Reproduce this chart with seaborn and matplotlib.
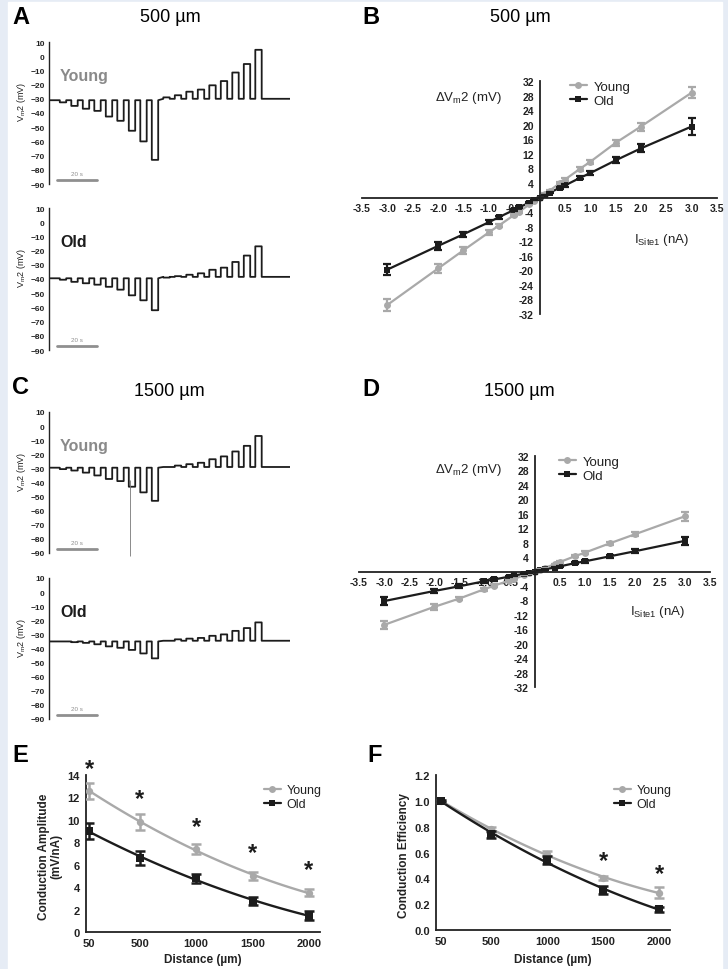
import numpy as np
import pandas as pd
import matplotlib
matplotlib.use("Agg")
import matplotlib.pyplot as plt
import seaborn as sns
from matplotlib.lines import Line2D
from matplotlib.patches import Rectangle

sns.set_style("white")
plt.rcParams["font.family"] = ["Liberation Sans", "DejaVu Sans"]
plt.rcParams["mathtext.fontset"] = "custom"
plt.rcParams["mathtext.rm"] = "Liberation Sans"

# %% data
# voltage traces: pulse order -0.1 ... -3.0 nA, then +0.1 ... +3.0 nA
a_young_base = [-31, -30]
a_young_neg = [-32.5, -35, -37, -38.5, -42.5, -45.5, -52.5, -60, -73]
a_young_pos = [-29, -27.5, -25, -23.5, -20.5, -17.5, -11.5, -5.5, 4.5]
a_old_base = [-39.5, -38.5]
a_old_neg = [-40.5, -42, -43, -44, -45.5, -47.5, -51.5, -55, -62]
a_old_pos = [-39, -38, -37, -36, -33.5, -32, -28, -23.5, -17]
c_young_base = [-29.5, -29]
c_young_neg = [-30.5, -31.5, -33, -35, -37.5, -39, -43, -47, -53]
c_young_pos = [-29, -28, -27, -26, -23.5, -21.5, -18, -14, -7]
c_young_spike = [40.5, -38, -92]  # time (s), from, to
c_old_base = [-35, -34.5]
c_old_neg = [-35, -35.5, -36, -37, -38.5, -39.5, -41, -43.5, -47]
c_old_pos = [-34.5, -33.5, -33, -32.5, -31, -30, -27.5, -25.5, -21.5]

# I-V relations
current_nA = [-3, -2, -1.5, -1, -0.8, -0.5, -0.4, -0.2, -0.1, 0,
              0.1, 0.2, 0.4, 0.5, 0.8, 1, 1.5, 2, 3]
b_young = [-29.5, -19.5, -14.5, -9.6, -7.7, -4.8, -3.9, -1.9, -1.0, 0,
           1.0, 1.9, 3.9, 4.9, 7.9, 9.8, 15.0, 19.5, 28.8]
b_young_err = [1.6, 1.2, 0.9, 0.6, 0.5, 0.4, 0.3, 0.2, 0.1, 0,
               0.1, 0.2, 0.3, 0.4, 0.5, 0.6, 0.9, 1.1, 1.6]
b_old = [-19.8, -13.3, -10.1, -6.8, -5.4, -3.4, -2.7, -1.4, -0.7, 0,
         0.7, 1.3, 2.7, 3.3, 5.4, 6.7, 10.2, 13.5, 19.5]
b_old_err = [1.5, 1.0, 0.7, 0.5, 0.4, 0.3, 0.25, 0.15, 0.1, 0,
             0.1, 0.15, 0.25, 0.3, 0.4, 0.5, 0.8, 1.1, 2.2]
d_young = [-14.8, -9.8, -7.5, -4.9, -3.9, -2.5, -2.0, -1.0, -0.5, 0,
           0.5, 1.0, 2.0, 2.6, 4.2, 5.2, 7.8, 10.3, 15.3]
d_young_err = [1.1, 0.8, 0.5, 0.4, 0.3, 0.2, 0.2, 0.1, 0.1, 0,
               0.1, 0.1, 0.2, 0.2, 0.3, 0.4, 0.5, 0.6, 1.2]
d_old = [-8.2, -5.4, -4.1, -2.7, -2.2, -1.4, -1.1, -0.6, -0.3, 0,
         0.3, 0.6, 1.1, 1.4, 2.3, 2.8, 4.2, 5.6, 8.5]
d_old_err = [1.2, 0.6, 0.5, 0.4, 0.3, 0.2, 0.2, 0.1, 0.1, 0,
             0.1, 0.1, 0.2, 0.2, 0.3, 0.4, 0.5, 0.5, 1.1]

# distance dependence
distance_um = [50, 500, 1000, 1500, 2000]
e_young = [12.6, 9.8, 7.4, 5.0, 3.5]
e_young_err = [0.7, 0.7, 0.45, 0.35, 0.3]
e_old = [9.0, 6.6, 4.8, 2.8, 1.45]
e_old_err = [0.7, 0.6, 0.4, 0.35, 0.4]
e_star_x = [50, 500, 1000, 1500, 2000]
e_star_y = [14.6, 11.9, 9.4, 7.1, 5.6]
f_young = [1.0, 0.78, 0.59, 0.40, 0.29]
f_young_err = [0.01, 0.02, 0.02, 0.015, 0.04]
f_old = [1.0, 0.74, 0.54, 0.31, 0.16]
f_old_err = [0.01, 0.03, 0.03, 0.03, 0.02]
f_star_x = [1500, 2000]
f_star_y = [0.535, 0.435]

# %% styles
YOUNG = "#a9a9a9"
OLD = "#1c1c1c"
TEXT = "#222222"
W, H = 728, 970

fig = plt.figure(figsize=(W / 100, H / 100), dpi=100)
fig.patch.set_facecolor("#e6ecf5")
fig.add_artist(Rectangle((8 / W, 0), (722 - 8) / W, 1 - 3 / H,
                         transform=fig.transFigure, color="white", zorder=-10))


def px_axes(left, top, right, bottom):
    ax = fig.add_axes([left / W, 1 - bottom / H, (right - left) / W, (bottom - top) / H])
    ax.set_facecolor("none")
    return ax


def ftext(x, y, s, **kw):
    fig.text(x / W, 1 - y / H, s, **kw)


# %% voltage traces (A, C)
first_onset, period, pulse_width, t_end = 5.4, 5.75, 3.2, 120.5


def trace_panel(top, bottom, base, neg, pos, label, label_color, spike=None):
    ax = px_axes(49, top, 290, bottom)
    t, v = [0.0], [base[0]]
    for i, lev in enumerate(neg + pos):
        b = base[0] if i < len(neg) else base[1]
        on = first_onset + i * period
        t += [on, on, on + pulse_width, on + pulse_width]
        v += [b, lev, lev, b]
    t.append(t_end)
    v.append(base[1])
    df = pd.DataFrame({"t": t, "v": v})
    sns.lineplot(data=df, x="t", y="v", sort=False, estimator=None,
                 color=OLD, lw=1.3, ax=ax)
    if spike is not None:
        ax.vlines(spike[0], spike[2], spike[1], color="#777777", lw=0.6, clip_on=False)
    ax.set_xlim(0, t_end)
    ax.set_ylim(-90, 10)
    ax.set_yticks(range(-90, 11, 10))
    ax.tick_params(axis="y", labelsize=6, length=2, width=0.8, pad=1, colors=TEXT)
    for lab in ax.get_yticklabels():
        lab.set_fontweight("bold")
    ax.set_xticks([])
    ax.set_xlabel("")
    ax.set_ylabel("")
    for s in ["top", "right", "bottom"]:
        ax.spines[s].set_visible(False)
    ax.spines["left"].set_linewidth(1.0)
    ax.spines["left"].set_color(TEXT)
    ax.text(5.5, -13.5, label, color=label_color, fontsize=11.5,
            fontweight="bold", va="center", ha="left")
    # scale bar 20 s
    ax.plot([4, 24], [-87, -87], color="#8f8f8f", lw=2, clip_on=False)
    ax.text(14, -84.5, "20 s", color="#8f8f8f", fontsize=4.5, ha="center", va="bottom")
    ftext(22, (top + bottom) / 2 - 12, "V$_\\mathregular{m}$2 (mV)", rotation=90,
          fontsize=6.5, color=TEXT, ha="center", va="center")
    return ax


trace_panel(43, 185, a_young_base, a_young_neg, a_young_pos, "Young", "#8a8a8a")
trace_panel(209, 351, a_old_base, a_old_neg, a_old_pos, "Old", OLD)
trace_panel(413, 554, c_young_base, c_young_neg, c_young_pos, "Young", "#8a8a8a",
            spike=c_young_spike)
trace_panel(579, 720, c_old_base, c_old_neg, c_old_pos, "Old", OLD)


# %% I-V panels (B, D)
def iv_panel(left, top, right, bottom, young, young_err, old, old_err, leg_xy, ylab_xy, xlab_xy):
    ax = px_axes(left, top, right, bottom)
    n = len(current_nA)
    df = pd.DataFrame({"I": current_nA * 2, "V": young + old,
                       "group": ["Young"] * n + ["Old"] * n})
    sns.lineplot(data=df, x="I", y="V", hue="group", style="group",
                 palette={"Young": YOUNG, "Old": OLD},
                 markers={"Young": "o", "Old": "s"}, dashes=False,
                 estimator=None, sort=True, lw=1.6, markersize=5,
                 markeredgewidth=0, legend=False, ax=ax)
    ax.errorbar(current_nA, young, yerr=young_err, fmt="none", ecolor=YOUNG,
                elinewidth=1.6, capsize=3, capthick=1.6)
    ax.errorbar(current_nA, old, yerr=old_err, fmt="none", ecolor=OLD,
                elinewidth=1.6, capsize=3, capthick=1.6)
    ax.set_xlim(-3.5, 3.5)
    ax.set_ylim(-32, 32)
    xt = np.arange(-3.5, 3.51, 0.5)
    ax.set_xticks(xt)
    ax.set_xticklabels(["" if abs(x) < 1e-9 else f"{x:.1f}" for x in xt])
    yt = list(range(-32, 33, 4))
    ax.set_yticks(yt)
    ax.set_yticklabels(["" if y == 0 else str(y) for y in yt])
    ax.spines["left"].set_position(("data", 0))
    ax.spines["bottom"].set_position(("data", 0))
    ax.spines["top"].set_visible(False)
    ax.spines["right"].set_visible(False)
    for s in ["left", "bottom"]:
        ax.spines[s].set_linewidth(1.3)
        ax.spines[s].set_color(TEXT)
    ax.tick_params(labelsize=7.5, length=3, width=1.2, pad=1, colors=TEXT)
    for lab in ax.get_xticklabels() + ax.get_yticklabels():
        lab.set_fontweight("bold")
    ax.set_xlabel("")
    ax.set_ylabel("")
    ftext(*ylab_xy, "$\\Delta$V$_\\mathregular{m}$2 (mV)", fontsize=9.5, color=TEXT,
          ha="center", va="center")
    ftext(*xlab_xy, "I$_\\mathregular{Site1}$ (nA)", fontsize=9.5, color=TEXT,
          ha="center", va="center")
    handles = [Line2D([], [], color=YOUNG, marker="o", lw=1.6, markersize=5, markeredgewidth=0),
               Line2D([], [], color=OLD, marker="s", lw=1.6, markersize=5, markeredgewidth=0)]
    fig.legend(handles, ["Young", "Old"], loc="upper left",
               bbox_to_anchor=(leg_xy[0] / W, 1 - leg_xy[1] / H),
               frameon=False, fontsize=9.5, handlelength=1.3, handletextpad=0.5,
               labelspacing=0.15, borderpad=0, labelcolor=TEXT)
    return ax


iv_panel(362, 82, 717, 315, b_young, b_young_err, b_old, b_old_err,
         (563, 75), (468, 98), (662, 240))
iv_panel(359, 457, 710, 688, d_young, d_young_err, d_old, d_old_err,
         (552, 450), (468, 470), (658, 612))


# %% distance panels (E, F)
def dist_panel(left, top, right, bottom, xlim, ylim, yticks, yfmt,
               young, young_err, old, old_err, star_x, star_y, ylabel, ylab_x, xlab_x, leg_xy):
    ax = px_axes(left, top, right, bottom)
    for vals, err, color, marker in [(young, young_err, YOUNG, "o"), (old, old_err, OLD, "s")]:
        sns.regplot(x=distance_um, y=vals, order=2, ci=None, scatter=False, truncate=True,
                    line_kws=dict(color=color, lw=1.7), ax=ax)
        sns.scatterplot(x=distance_um, y=vals, marker=marker, color=color, s=28,
                        linewidth=0, ax=ax, zorder=3)
        ax.errorbar(distance_um, vals, yerr=err, fmt="none", ecolor=color,
                    elinewidth=1.8, capsize=3.5, capthick=1.8, zorder=3)
    for sx, sy in zip(star_x, star_y):
        ax.text(sx, sy, "*", fontsize=17, fontweight="bold", color=OLD,
                ha="center", va="center", clip_on=False)
    ax.set_xlim(*xlim)
    ax.set_ylim(*ylim)
    ax.set_xticks(distance_um)
    ax.set_yticks(yticks)
    ax.set_yticklabels([yfmt.format(y) for y in yticks])
    for s in ["top", "right"]:
        ax.spines[s].set_visible(False)
    for s in ["left", "bottom"]:
        ax.spines[s].set_linewidth(1.3)
        ax.spines[s].set_color(TEXT)
    ax.tick_params(labelsize=8, length=3, width=1.2, pad=1.5, colors=TEXT)
    for lab in ax.get_xticklabels() + ax.get_yticklabels():
        lab.set_fontweight("bold")
    ax.set_xlabel("")
    ax.set_ylabel("")
    ftext(ylab_x, (top + bottom) / 2 + 2, ylabel, rotation=90, fontsize=8.5,
          fontweight="bold", color=TEXT, ha="center", va="center", linespacing=1.1)
    ftext(xlab_x, 960, "Distance (µm)", fontsize=8.5, fontweight="bold", color=TEXT,
          ha="center", va="center")
    handles = [Line2D([], [], color=YOUNG, marker="o", lw=1.6, markersize=5, markeredgewidth=0),
               Line2D([], [], color=OLD, marker="s", lw=1.6, markersize=5, markeredgewidth=0)]
    fig.legend(handles, ["Young", "Old"], loc="upper left",
               bbox_to_anchor=(leg_xy[0] / W, 1 - leg_xy[1] / H),
               frameon=False, fontsize=9, handlelength=1.3, handletextpad=0.5,
               labelspacing=0.15, borderpad=0, labelcolor=TEXT)
    return ax


dist_panel(86, 776, 320, 933, (23, 2098), (0, 14), list(range(0, 15, 2)), "{:d}",
           e_young, e_young_err, e_old, e_old_err, e_star_x, e_star_y,
           "Conduction Amplitude\n(mV/nA)", 50, 203, (258, 779))
dist_panel(436, 776, 670, 931, (5, 2098), (0, 1.2), [0, 0.2, 0.4, 0.6, 0.8, 1.0, 1.2], "{:.1f}",
           f_young, f_young_err, f_old, f_old_err, f_star_x, f_star_y,
           "Conduction Efficiency", 404, 553, (608, 779))

# %% panel letters and titles
for letter, x, y in [("A", 12, 17), ("B", 362, 17), ("C", 12, 387),
                     ("D", 362, 390), ("E", 12, 756), ("F", 367, 756)]:
    ftext(x, y, letter, fontsize=17, fontweight="bold", color="black", ha="left", va="center")
for title, x, y in [("500 µm", 170, 17), ("500 µm", 520, 17),
                    ("1500 µm", 169, 391), ("1500 µm", 519, 391)]:
    ftext(x, y, title, fontsize=13, color="black", ha="center", va="center")

fig.savefig("out.png", dpi=100, facecolor=fig.get_facecolor())
